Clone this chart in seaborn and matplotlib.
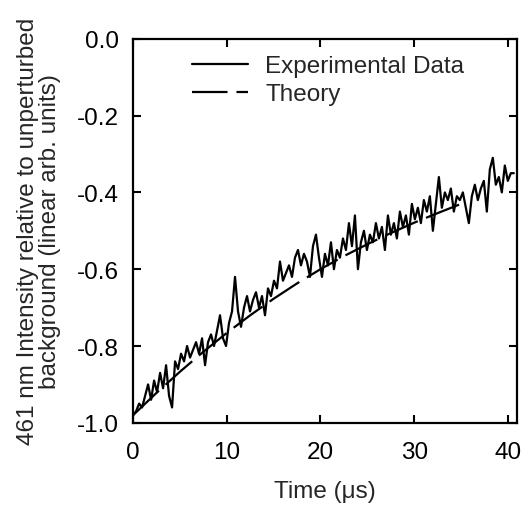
#!/usr/bin/env python3
# 461 nm intensity recovery after perturbation: experimental trace vs theory

import numpy as np
import pandas as pd
import seaborn as sns
import matplotlib
matplotlib.use("Agg")
import matplotlib.pyplot as plt

# Experimental trace, sampled every T_STEP microseconds starting at t = 0
T_STEP = 0.32
EXP_Y = [
    -0.98, -0.97, -0.95, -0.96, -0.93, -0.90, -0.94, -0.89, -0.92, -0.87,
    -0.91, -0.85, -0.93, -0.96, -0.84, -0.86, -0.82, -0.84, -0.80, -0.83,
    -0.81, -0.79, -0.82, -0.78, -0.85, -0.79, -0.77, -0.80, -0.76, -0.72,
    -0.78, -0.80, -0.74, -0.71, -0.62, -0.71, -0.75, -0.70, -0.67, -0.71,
    -0.68, -0.66, -0.70, -0.67, -0.72, -0.65, -0.67, -0.63, -0.65, -0.58,
    -0.63, -0.61, -0.59, -0.62, -0.57, -0.55, -0.59, -0.56, -0.58, -0.62,
    -0.54, -0.51, -0.57, -0.62, -0.56, -0.59, -0.53, -0.60, -0.55, -0.57,
    -0.52, -0.55, -0.48, -0.54, -0.46, -0.60, -0.53, -0.50, -0.55, -0.51,
    -0.53, -0.48, -0.52, -0.49, -0.55, -0.46, -0.51, -0.48, -0.52, -0.45,
    -0.49, -0.46, -0.51, -0.43, -0.47, -0.44, -0.48, -0.42, -0.45, -0.41,
    -0.50, -0.43, -0.36, -0.44, -0.40, -0.42, -0.39, -0.45, -0.41, -0.42,
    -0.40, -0.44, -0.48, -0.41, -0.38, -0.42, -0.39, -0.37, -0.45, -0.34,
    -0.31, -0.38, -0.36, -0.40, -0.33, -0.37, -0.35, -0.35,
]

# Theory curve
THEORY_T = [0, 2.5, 5, 7.5, 10, 12.5, 15, 17.5, 20, 22.5, 25, 27.5, 30, 32.5, 35]
THEORY_Y = [-0.980, -0.922, -0.867, -0.815, -0.766, -0.720, -0.677, -0.637,
            -0.600, -0.566, -0.535, -0.506, -0.479, -0.454, -0.430]

XTICKS = [0, 10, 20, 30, 40]
YTICKS = [0.0, -0.2, -0.4, -0.6, -0.8, -1.0]

FS = 17.5


def main():
    exp_df = pd.DataFrame({"t": np.arange(len(EXP_Y)) * T_STEP, "y": EXP_Y})
    th_df = pd.DataFrame({"t": THEORY_T, "y": THEORY_Y})

    sns.set_theme(style="ticks")
    plt.rcParams["font.family"] = ["Liberation Sans", "DejaVu Sans"]
    plt.rcParams["axes.unicode_minus"] = False

    fig = plt.figure(figsize=(5.24, 5.10), dpi=100)
    ax = fig.add_axes([0.254, 0.169, 0.733, 0.753])

    sns.lineplot(data=exp_df, x="t", y="y", estimator=None, color="black",
                 linewidth=1.6, label="Experimental Data", ax=ax)
    sns.lineplot(data=th_df, x="t", y="y", estimator=None, color="black",
                 linewidth=1.6, label="Theory", ax=ax)
    ax.lines[1].set_dashes((16, 4))

    ax.set_xlim(0, 41)
    ax.set_ylim(-1.0, 0.0)
    ax.set_xticks(XTICKS)
    ax.set_yticks(YTICKS)
    ax.set_yticklabels([f"{v:.1f}" for v in YTICKS])

    ax.tick_params(direction="in", top=True, right=True, length=6, width=1.5,
                   labelsize=FS, colors="black", pad=10)
    ax.tick_params(axis="x", pad=13)
    for side in ("top", "right", "bottom", "left"):
        ax.spines[side].set_visible(True)
        ax.spines[side].set_linewidth(1.6)
        ax.spines[side].set_color("black")

    ax.set_xlabel("Time (\u03bcs)", fontsize=FS, labelpad=12)
    ax.set_ylabel("461 nm Intensity relative to unperturbed\nbackground (linear arb. units)",
                  fontsize=FS, labelpad=12, linespacing=1.0)

    leg = ax.legend(loc="upper left", bbox_to_anchor=(0.154, 0.957), frameon=False,
                    fontsize=FS, handlelength=2.3, handletextpad=0.7,
                    borderaxespad=0, borderpad=0, labelspacing=0.25)
    for h in leg.get_lines():
        h.set_linewidth(1.6)
    leg.get_lines()[1].set_dashes((16, 4))

    fig.savefig("out.png", dpi=100)


if __name__ == "__main__":
    main()
